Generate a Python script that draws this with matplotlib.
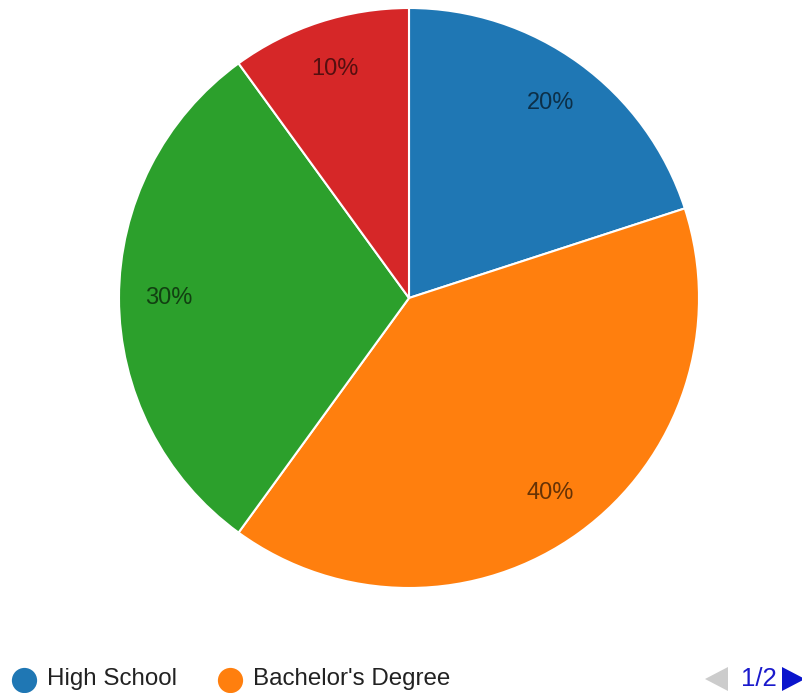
import matplotlib
matplotlib.use("Agg")
import matplotlib.pyplot as plt
from matplotlib.patches import Polygon

categories = ["High School", "Bachelor's Degree", "Master's Degree", "Doctorate"]
values = [20, 40, 30, 10]
colors = ["#1f77b4", "#ff7f0e", "#2ca02c", "#d62728"]
legend_shown = categories[:2]
page_label = "1/2"

W, H = 803, 693
fig = plt.figure(figsize=(W / 100, H / 100), dpi=100)
ax = fig.add_axes([0, 0, 1, 1])

cx, cy, r = 409, H - 298, 290
wedges, texts = ax.pie(values, colors=colors, startangle=90, counterclock=False,
                       center=(cx, cy), radius=r,
                       wedgeprops=dict(edgecolor="white", linewidth=1.5),
                       labels=[f"{v}%" for v in values], labeldistance=0.83,
                       textprops=dict(fontsize=17, color="#000000", alpha=0.6,
                                      family="Liberation Sans"))
for t in texts:
    t.set_ha("center"); t.set_va("center")
ax.set_xlim(0, W)
ax.set_ylim(0, H)
ax.set_aspect("auto")
ax.axis("off")

ly = H - 679
xs = [24, 230]
for x, name, c in zip(xs, legend_shown, colors):
    ax.scatter([x], [ly - 1], s=330, color=c, zorder=5, linewidths=0)
    ax.text(x + 23, ly, name, fontsize=17.4, color="#222222", va="center", ha="left",
            family="Liberation Sans")

ax.add_patch(Polygon([[728, ly + 12], [728, ly - 12], [705, ly]], closed=True,
                     color="#cccccc", lw=0))
ax.text(759, ly, page_label, fontsize=18.5, color="#1a1acc", va="center", ha="center",
        family="Liberation Sans")
ax.add_patch(Polygon([[782, ly + 12], [782, ly - 12], [805, ly]], closed=True,
                     color="#0a14cc", lw=0))

fig.savefig("out.png", dpi=100)
